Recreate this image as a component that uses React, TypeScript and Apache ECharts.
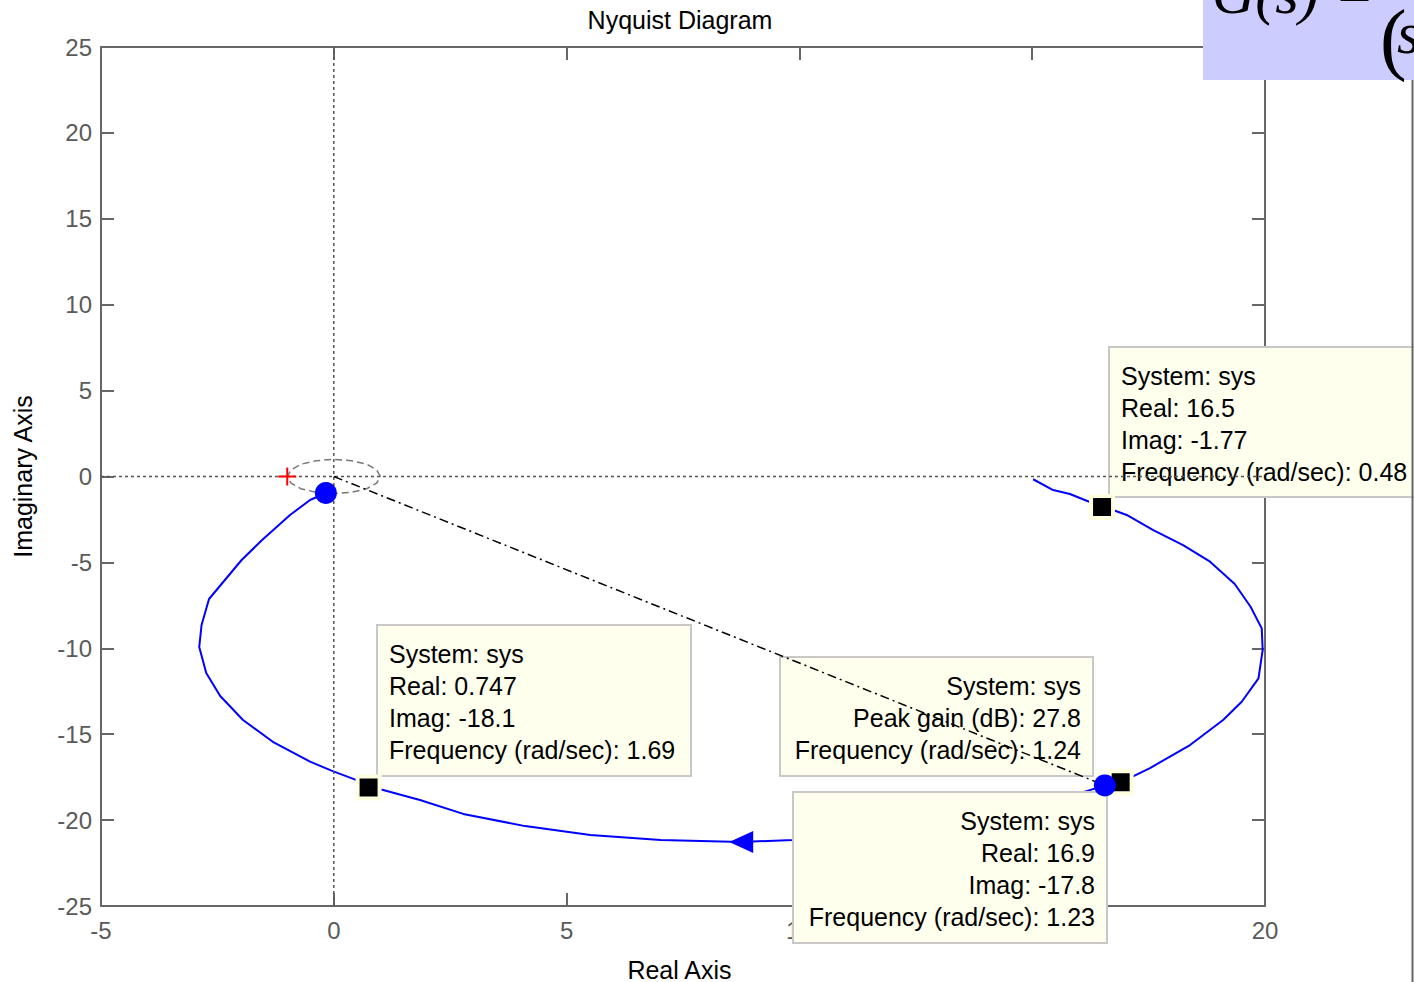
import React, { useEffect, useRef } from "react";
import * as echarts from "echarts";

// Positive-frequency branch of the Nyquist curve (real / imaginary parts)
const nyquistRe = [15.02, 15.45, 15.81, 16.17, 16.5, 16.78, 17.03, 17.59, 18.24, 18.82, 19.35, 19.69, 19.93, 19.95, 19.86, 19.5, 19.1, 18.39, 17.53, 16.9, 16.56, 15.6, 14.3, 12.8, 11.3, 9.86, 8.75, 7.02, 5.51, 4.11, 2.78, 1.85, 1.06, 0.747, 0.49, -0.05, -0.51, -1.31, -1.95, -2.44, -2.74, -2.89, -2.84, -2.68, -1.98, -1.54, -0.94, -0.51, -0.17];
const nyquistIm = [-0.16, -0.79, -1.02, -1.41, -1.77, -1.99, -2.24, -3.11, -3.99, -4.96, -6.26, -7.58, -8.84, -10.1, -11.75, -13.11, -14.17, -15.63, -16.97, -17.8, -17.98, -18.8, -19.7, -20.5, -20.9, -21.16, -21.27, -21.16, -20.87, -20.35, -19.64, -18.83, -18.25, -18.1, -17.67, -17.12, -16.6, -15.44, -14.17, -12.78, -11.44, -9.92, -8.64, -7.13, -4.86, -3.7, -2.24, -1.37, -0.96];

// Data tips (black squares)
const tipRe = [16.5, 16.9, 0.747];
const tipIm = [-1.77, -17.8, -18.1];

// Stability-margin / peak markers (blue dots)
const markRe = [-0.17, 16.56];
const markIm = [-0.96, -17.98];

// Peak gain point joined to the origin
const peakRe = 16.56;
const peakIm = -17.98;

// Direction arrow on the curve
const arrowRe = [8.75];
const arrowIm = [-21.27];

// Critical point
const criticalRe = [-1];
const criticalIm = [0];

// Unit circle vertices
const unitRe = [1, 0.92, 0.71, 0.38, 0, -0.38, -0.71, -0.92, -1, -0.92, -0.71, -0.38, 0, 0.38, 0.71, 0.92, 1];
const unitIm = [0, 0.38, 0.71, 0.92, 1, 0.92, 0.71, 0.38, 0, -0.38, -0.71, -0.92, -1, -0.92, -0.71, -0.38, 0];

// Axis ranges
const xMin = -5, xMax = 20, xStep = 5;
const yMin = -25, yMax = 25, yStep = 5;

// Data-tip texts
const tipTextA = ["System: sys", "Real: 16.5", "Imag: -1.77", "Frequency (rad/sec): 0.48"];
const tipTextB = ["System: sys", "Real: 0.747", "Imag: -18.1", "Frequency (rad/sec): 1.69"];
const tipTextC = ["System: sys", "Peak gain (dB): 27.8", "Frequency (rad/sec): 1.24"];
const tipTextD = ["System: sys", "Real: 16.9", "Imag: -17.8", "Frequency (rad/sec): 1.23"];

const zip = (a: number[], b: number[]) => a.map((v, i) => [v, b[i]]);

const FONT = '"Liberation Sans", Arial, sans-serif';
const AXIS_GRAY = "#666666";
const LABEL_GRAY = "#5a5a5a";
const TEXT_SIZE = 25;

function tipBox(x: number, y: number, w: number, h: number, lines: string[], align: "left" | "right") {
  const tx = align === "left" ? x + 12 : x + w - 12;
  return [
    {
      type: "rect",
      z: 3,
      shape: { x, y, width: w, height: h },
      style: { fill: "#ffffee", stroke: "#c8c8c8", lineWidth: 2 },
    },
    {
      type: "text",
      z: 3,
      x: tx,
      y: y + 13,
      style: {
        text: lines.join("\n"),
        font: `${TEXT_SIZE}px ${FONT}`,
        fill: "#000000",
        align,
        verticalAlign: "top",
        lineHeight: 32,
      },
    },
  ];
}

function buildAxis(dim: "x" | "y", position: string, primary: boolean) {
  const isX = dim === "x";
  const base: any = {
    type: "value",
    min: isX ? xMin : yMin,
    max: isX ? xMax : yMax,
    interval: isX ? xStep : yStep,
    position,
    axisLine: { show: true, onZero: false, lineStyle: { color: AXIS_GRAY, width: 2 } },
    axisTick: { show: true, inside: true, length: 13, lineStyle: { color: AXIS_GRAY, width: 2 } },
    axisLabel: {
      show: primary,
      fontSize: 24,
      color: LABEL_GRAY,
      fontFamily: FONT,
      margin: isX ? 12 : 9,
    },
    splitLine: { show: false },
  };
  if (primary && !isX) {
    base.name = "Imaginary Axis";
    base.nameLocation = "middle";
    base.nameGap = 66;
    base.nameRotate = 90;
    base.nameTextStyle = { fontSize: TEXT_SIZE, color: "#000000", fontFamily: FONT };
  }
  return base;
}

export default function App() {
  const ref = useRef<HTMLDivElement>(null);

  useEffect(() => {
    if (!ref.current) return;
    const chart = echarts.init(ref.current, null, { renderer: "svg" });

    const option: any = {
      animation: false,
      backgroundColor: "#ffffff",
      textStyle: { fontFamily: FONT },
      grid: {
        left: 101,
        right: 149,
        top: 47,
        bottom: 76,
        show: false,
        containLabel: false,
        outerBoundsMode: "none",
      },
      xAxis: [buildAxis("x", "bottom", true), buildAxis("x", "top", false)],
      yAxis: [buildAxis("y", "left", true), buildAxis("y", "right", false)],
      series: [
        {
          type: "line",
          data: zip(nyquistRe, nyquistIm),
          showSymbol: false,
          silent: true,
          z: 2,
          lineStyle: { color: "#0000ff", width: 2 },
        },
        {
          type: "line",
          data: [[xMin, 0], [xMax, 0]],
          showSymbol: false,
          silent: true,
          z: 4,
          lineStyle: { color: "#555555", width: 1.5, type: [3, 3] },
        },
        {
          type: "line",
          data: [[0, yMin], [0, yMax]],
          showSymbol: false,
          silent: true,
          z: 4,
          lineStyle: { color: "#555555", width: 1.5, type: [3, 3] },
        },
        {
          type: "line",
          data: zip(unitRe, unitIm),
          showSymbol: false,
          silent: true,
          z: 4,
          lineStyle: { color: "#777777", width: 1.5, type: [7, 4] },
        },
        {
          type: "line",
          data: [[0, 0], [peakRe, peakIm]],
          showSymbol: false,
          silent: true,
          z: 4,
          lineStyle: { color: "#000000", width: 1.5, type: [9, 4, 2, 4] },
        },
        {
          type: "scatter",
          data: zip(arrowRe, arrowIm),
          symbol: "triangle",
          symbolSize: [22, 24],
          symbolRotate: 90,
          silent: true,
          z: 5,
          itemStyle: { color: "#0000ff", opacity: 1 },
        },
        {
          type: "scatter",
          data: zip(tipRe, tipIm),
          symbol: "rect",
          symbolSize: 22,
          silent: true,
          z: 6,
          itemStyle: { color: "#000000", borderColor: "#ffffe0", borderWidth: 4, opacity: 1 },
        },
        {
          type: "scatter",
          data: zip(markRe, markIm),
          symbol: "circle",
          symbolSize: 22,
          silent: true,
          z: 6,
          itemStyle: { color: "#0000ff", opacity: 1 },
        },
        {
          type: "scatter",
          data: zip(criticalRe, criticalIm),
          symbol: "path://M0,8H18V10H0Z M8,0H10V18H8Z",
          symbolSize: 18,
          silent: true,
          z: 6,
          itemStyle: { color: "#ff0000", opacity: 1 },
        },
      ],
      graphic: [
        {
          type: "text",
          z: 3,
          x: 680,
          y: 20,
          style: {
            text: "Nyquist Diagram",
            font: `${TEXT_SIZE}px ${FONT}`,
            fill: "#000000",
            align: "center",
            verticalAlign: "middle",
          },
        },
        {
          type: "text",
          z: 1,
          x: 679.5,
          y: 970,
          style: {
            text: "Real Axis",
            font: `${TEXT_SIZE}px ${FONT}`,
            fill: "#000000",
            align: "center",
            verticalAlign: "middle",
          },
        },
        ...tipBox(1109, 347, 306, 150, tipTextA, "left"),
        ...tipBox(377, 625, 314, 151, tipTextB, "left"),
        ...tipBox(780, 657, 313, 119, tipTextC, "right"),
        ...tipBox(793, 792, 314, 151, tipTextD, "right"),
        {
          type: "line",
          z: 10,
          shape: { x1: 1412.5, y1: 80, x2: 1412.5, y2: 982 },
          style: { stroke: "#666666", lineWidth: 2 },
        },
        {
          type: "rect",
          z: 10,
          shape: { x: 1203, y: 0, width: 211, height: 80 },
          style: { fill: "#ccccff" },
        },
        {
          type: "text",
          z: 11,
          x: 1212,
          y: -7,
          style: {
            text: "G(s) =",
            font: 'italic 60px "Liberation Serif", "Times New Roman", serif',
            fill: "#000000",
            align: "left",
            verticalAlign: "middle",
          },
        },
        {
          type: "text",
          z: 11,
          x: 1380,
          y: 38,
          style: {
            text: "(",
            font: '80px "Liberation Serif", "Times New Roman", serif',
            fill: "#000000",
            align: "left",
            verticalAlign: "middle",
          },
        },
        {
          type: "text",
          z: 11,
          x: 1397,
          y: 33,
          style: {
            text: "s",
            font: 'italic 60px "Liberation Serif", "Times New Roman", serif',
            fill: "#000000",
            align: "left",
            verticalAlign: "middle",
          },
        },
      ],
    };

    chart.setOption(option);
    return () => chart.dispose();
  }, []);

  return (
    <div
      ref={ref}
      style={{ position: "fixed", left: 0, top: 0, width: 1414, height: 982, background: "#ffffff" }}
    />
  );
}
